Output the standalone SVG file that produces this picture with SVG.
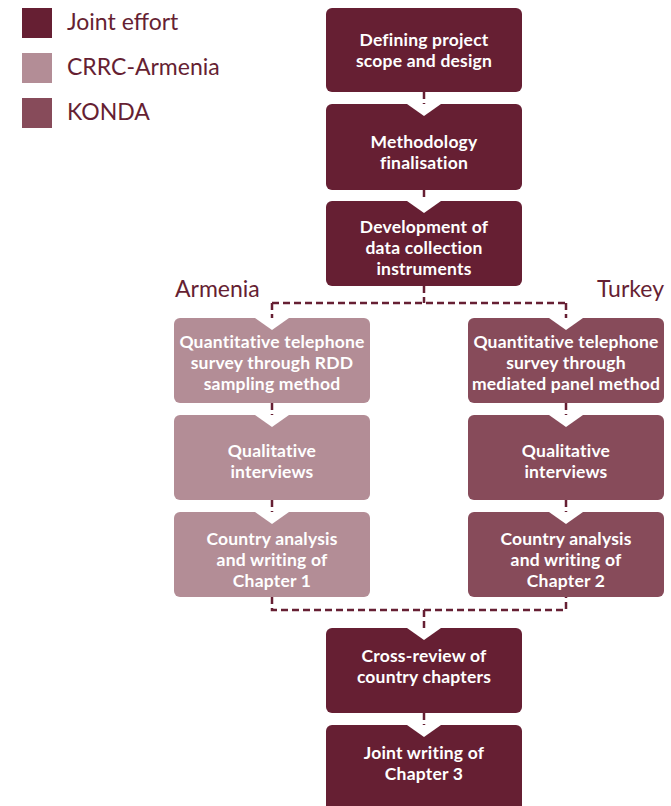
<svg xmlns="http://www.w3.org/2000/svg" width="671" height="806" viewBox="0 0 671 806">
<style>
.joint{fill:#661f33}
.crrc{fill:#b38d96}
.konda{fill:#874b5a}
.notch{fill:#ffffff}
.bt{font-family:Lato,"Liberation Sans",sans-serif;font-weight:bold;font-size:17.5px;letter-spacing:0.2px;fill:#ffffff;text-anchor:middle}
.lg{font-family:Lato,"Liberation Sans",sans-serif;font-weight:normal;font-size:23px;fill:#661f33}
.dash{fill:none;stroke:#661f33;stroke-width:2.5;stroke-dasharray:7 4}
</style>
<rect width="671" height="806" fill="#ffffff"/>
<g id="legend">
<rect class="joint" x="22" y="8" width="30" height="30"/>
<text class="lg" x="67" y="30">Joint effort</text>
<rect class="crrc" x="22" y="53" width="30" height="30"/>
<text class="lg" x="67" y="75">CRRC-Armenia</text>
<rect class="konda" x="22" y="98" width="30" height="30"/>
<text class="lg" x="67" y="120">KONDA</text>
</g>
<g id="country-labels">
<text class="lg" x="175" y="297">Armenia</text>
<text class="lg" x="664" y="297" text-anchor="end">Turkey</text>
</g>
<g id="connectors">
<path class="dash" d="M424 92V104"/>
<path class="dash" d="M424 190V201"/>
<path class="dash" d="M424 286V303M272 303H566M272 303V318M566 303V318"/>
<path class="dash" d="M272 403V415M566 403V415"/>
<path class="dash" d="M272 500V512M566 500V512"/>
<path class="dash" d="M272 597V610H566V597M424 610V628"/>
<path class="dash" d="M424 713V725"/>
</g>
<g id="n1">
<rect class="joint" x="326" y="8" width="196" height="84" rx="6"/>
<text class="bt" x="424" y="46">Defining project</text>
<text class="bt" x="424" y="67">scope and design</text>
</g>
<g id="n2">
<rect class="joint" x="326" y="104" width="196" height="86" rx="6"/>
<polygon class="notch" points="407,104 441,104 424,116"/>
<text class="bt" x="424" y="148">Methodology</text>
<text class="bt" x="424" y="169">finalisation</text>
</g>
<g id="n3">
<rect class="joint" x="326" y="201" width="196" height="85" rx="6"/>
<polygon class="notch" points="407,201 441,201 424,213"/>
<text class="bt" x="424" y="233">Development of</text>
<text class="bt" x="424" y="254">data collection</text>
<text class="bt" x="424" y="275">instruments</text>
</g>
<g id="a1">
<rect class="crrc" x="174" y="318" width="196" height="85" rx="6"/>
<polygon class="notch" points="255,318 289,318 272,330"/>
<text class="bt" x="272" y="348">Quantitative telephone</text>
<text class="bt" x="272" y="369">survey through RDD</text>
<text class="bt" x="272" y="390">sampling method</text>
</g>
<g id="t1">
<rect class="konda" x="468" y="318" width="196" height="85" rx="6"/>
<polygon class="notch" points="549,318 583,318 566,330"/>
<text class="bt" x="566" y="348">Quantitative telephone</text>
<text class="bt" x="566" y="369">survey through</text>
<text class="bt" x="566" y="390">mediated panel method</text>
</g>
<g id="a2">
<rect class="crrc" x="174" y="415" width="196" height="85" rx="6"/>
<polygon class="notch" points="255,415 289,415 272,427"/>
<text class="bt" x="272" y="457">Qualitative</text>
<text class="bt" x="272" y="478">interviews</text>
</g>
<g id="t2">
<rect class="konda" x="468" y="415" width="196" height="85" rx="6"/>
<polygon class="notch" points="549,415 583,415 566,427"/>
<text class="bt" x="566" y="457">Qualitative</text>
<text class="bt" x="566" y="478">interviews</text>
</g>
<g id="a3">
<rect class="crrc" x="174" y="512" width="196" height="85" rx="6"/>
<polygon class="notch" points="255,512 289,512 272,524"/>
<text class="bt" x="272" y="545">Country analysis</text>
<text class="bt" x="272" y="566">and writing of</text>
<text class="bt" x="272" y="587">Chapter 1</text>
</g>
<g id="t3">
<rect class="konda" x="468" y="512" width="196" height="85" rx="6"/>
<polygon class="notch" points="549,512 583,512 566,524"/>
<text class="bt" x="566" y="545">Country analysis</text>
<text class="bt" x="566" y="566">and writing of</text>
<text class="bt" x="566" y="587">Chapter 2</text>
</g>
<g id="n4">
<rect class="joint" x="326" y="628" width="196" height="85" rx="6"/>
<polygon class="notch" points="407,628 441,628 424,640"/>
<text class="bt" x="424" y="662">Cross-review of</text>
<text class="bt" x="424" y="683">country chapters</text>
</g>
<g id="n5">
<rect class="joint" x="326" y="725" width="196" height="88" rx="6"/>
<polygon class="notch" points="407,725 441,725 424,737"/>
<text class="bt" x="424" y="759">Joint writing of</text>
<text class="bt" x="424" y="780">Chapter 3</text>
</g>
</svg>
